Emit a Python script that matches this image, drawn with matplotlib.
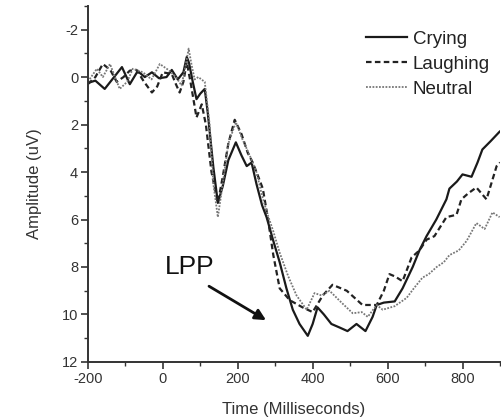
import numpy as np
import matplotlib
matplotlib.use("Agg")
import matplotlib.pyplot as plt
from matplotlib.ticker import MultipleLocator

plt.rcParams['font.family'] = ['Liberation Sans', 'DejaVu Sans']
plt.rcParams['axes.unicode_minus'] = False

# ERP curves (time in ms, amplitude in uV)
crying_t = [-200, -180, -155, -130, -109, -88, -67, -48, -29, -10, 10, 24, 40, 55, 64, 70, 80, 90,
            100, 112, 120, 135, 147, 160, 175, 195, 210, 224, 237, 250, 265, 277, 295, 312, 330,
            347, 365, 387, 400, 413, 430, 450, 472, 493, 517, 541, 560, 571, 590, 619, 640, 667,
            685, 704, 730, 757, 765, 785, 800, 824, 840, 853, 875, 899]
crying_v = [0.25, 0.15, 0.5, 0.0, -0.42, 0.3, -0.25, 0.0, -0.2, 0.05, 0.0, -0.3, 0.1, -0.2, -0.85,
            -0.6, 0.2, 0.93, 0.7, 0.5, 1.5, 3.8, 5.3, 4.6, 3.5, 2.75, 3.3, 3.75, 3.6, 4.5, 5.4,
            5.9, 6.9, 7.8, 8.9, 9.8, 10.4, 10.9, 10.4, 9.7, 10.0, 10.4, 10.55, 10.7, 10.4, 10.7,
            10.1, 9.6, 9.5, 9.45, 8.9, 8.0, 7.3, 6.7, 6.0, 5.15, 4.7, 4.4, 4.1, 4.2, 3.6, 3.05,
            2.7, 2.3]

laughing_t = [-200, -180, -160, -140, -123, -105, -88, -70, -50, -29, -15, 0, 24, 35, 45, 55, 64,
              75, 90, 104, 115, 130, 147, 160, 175, 192, 210, 227, 240, 255, 267, 280, 295, 312,
              339, 373, 400, 427, 453, 491, 533, 571, 590, 605, 620, 640, 664, 685, 704, 725,
              757, 784, 797, 815, 837, 864, 891, 900]
laughing_v = [0.3, 0.0, -0.55, -0.3, 0.2, 0.0, -0.27, -0.3, 0.2, 0.65, 0.4, -0.2, -0.13, 0.3,
              0.65, 0.2, -0.63, 0.3, 1.7, 1.15, 2.0, 4.0, 5.3, 4.2, 2.8, 1.8, 2.4, 3.2, 3.6, 4.2,
              4.7, 5.9, 7.5, 8.9, 9.4, 9.7, 9.9, 9.2, 8.75, 9.0, 9.6, 9.6, 9.0, 8.3, 8.4, 8.6,
              7.6, 7.3, 6.85, 6.7, 5.9, 5.8, 5.15, 4.9, 4.65, 5.15, 3.75, 3.6]

neutral_t = [-200, -176, -160, -141, -115, -95, -80, -53, -30, -8, 15, 35, 50, 60, 69, 77, 85, 95,
             103, 112, 125, 135, 147, 160, 175, 195, 212, 232, 250, 265, 280, 295, 312, 335, 357,
             384, 405, 424, 445, 477, 507, 531, 547, 571, 587, 619, 651, 670, 693, 710, 731, 750,
             765, 790, 811, 837, 859, 880, 899]
neutral_v = [0.2, -0.35, 0.0, -0.55, 0.5, 0.2, -0.35, -0.2, 0.1, -0.55, -0.3, 0.0, 0.35, -0.4,
             -1.2, -0.5, 0.1, 0.0, 0.1, 0.2, 2.0, 4.5, 5.9, 4.5, 2.8, 1.9, 2.6, 3.3, 4.0, 5.0,
             5.8, 6.5, 7.4, 8.4, 9.2, 9.8, 9.1, 9.2, 9.0, 9.5, 9.95, 9.9, 10.1, 9.6, 9.8, 9.65,
             9.3, 8.9, 8.45, 8.3, 8.0, 7.8, 7.5, 7.3, 6.9, 6.15, 6.4, 5.7, 5.9]

fig = plt.figure(figsize=(5.02, 4.17), dpi=100)
ax = fig.add_axes([0.175, 0.132, 0.821, 0.854])

ax.plot(crying_t, crying_v, color='#1a1a1a', lw=1.6, ls='-', label='Crying')
ax.plot(laughing_t, laughing_v, color='#222222', lw=1.6, ls=(0, (2.5, 1.5)), label='Laughing')
ax.plot(neutral_t, neutral_v, color='#777777', lw=1.3, ls=(0, (1, 0.8)), label='Neutral')

ax.set_xlim(-200, 900)
ax.xaxis.set_major_locator(MultipleLocator(200))
ax.xaxis.set_minor_locator(MultipleLocator(100))
ax.yaxis.set_minor_locator(MultipleLocator(1))
ax.set_yticks(np.arange(-2, 13, 2))
ax.set_ylim(12, -3)

for s in ['top', 'right']:
    ax.spines[s].set_visible(False)
for s in ['left', 'bottom']:
    ax.spines[s].set_linewidth(1.4)
    ax.spines[s].set_color('#333333')

ax.tick_params(which='major', direction='out', length=5, width=1.2, labelsize=10.5,
               colors='#333333', pad=2)
ax.tick_params(which='minor', direction='out', length=3, width=1.0, colors='#333333')

ax.set_xlabel('Time (Milliseconds)', fontsize=12, color='#333333', labelpad=12)
ax.set_ylabel('Amplitude (uV)', fontsize=12, color='#333333', labelpad=14)

leg = ax.legend(loc='upper left', bbox_to_anchor=(0.675, 0.93), frameon=False,
                fontsize=13.5, handlelength=2.2, handletextpad=0.3, labelspacing=0.42,
                borderpad=0, borderaxespad=0)
for t in leg.get_texts():
    t.set_color('#222222')

ax.text(5, 8.0, 'LPP', fontsize=19, ha='left', va='center', color='#111111')
ax.annotate('', xy=(282, 10.3), xytext=(117, 8.75),
            arrowprops=dict(arrowstyle='-|>', lw=2, color='#111111', mutation_scale=16))

fig.savefig('out.png', dpi=100)
